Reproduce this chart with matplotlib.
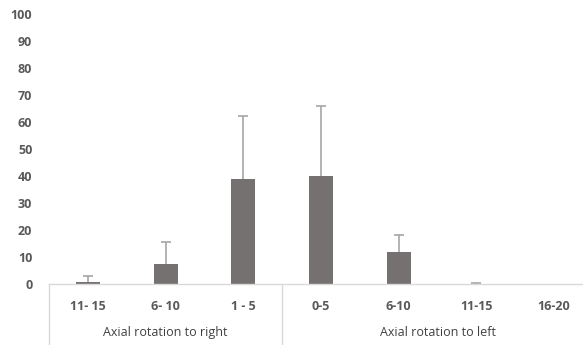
import numpy as np
import matplotlib.pyplot as plt
import matplotlib.transforms as mtransforms

# values
categories = ["11- 15", "6- 10", "1 - 5", "0-5", "6-10", "11-15", "16-20"]
means = [1.0, 7.5, 39.0, 40.2, 11.9, 0.1, 0.0]
errors = [2.0, 8.1, 23.5, 25.7, 6.3, 0.5, 0.0]
groups = ["Axial rotation to right", "Axial rotation to left"]
group_spans = [(0, 2), (3, 6)]

plt.rcParams["font.family"] = ["Open Sans", "DejaVu Sans"]

fig = plt.figure(figsize=(5.83, 3.45), dpi=100)
ax = fig.add_axes([49 / 583, 60.7 / 345, 534 / 583, 270 / 345])

x = np.arange(len(categories))
m = np.array(means)
e = np.array(errors)
ax.bar(x, m, width=0.31, color="#767171", zorder=2)
# upper error bars only, skipped where the error is zero
has_err = e > 0
ax.vlines(x[has_err], m[has_err], m[has_err] + e[has_err], color="#A6A6A6",
          lw=1.2, zorder=1)
ax.plot(x[has_err], m[has_err] + e[has_err], ls="none", marker="_", ms=7,
        mew=1.2, color="#A6A6A6", zorder=1)

ax.set_ylim(0, 100)
ax.set_xlim(-0.5, -0.5 + 534 / 77.7)
ax.set_yticks(np.arange(0, 101, 10))
ax.tick_params(axis="y", length=0, pad=12, labelsize=9, labelcolor="#595959")
for lab in ax.get_yticklabels():
    lab.set_fontweight("bold")
ax.set_xticks(x)
ax.set_xticklabels(categories, fontsize=9, color="#595959", fontweight="bold")
ax.tick_params(axis="x", length=0, pad=11)

for s in ["top", "right", "left"]:
    ax.spines[s].set_visible(False)
ax.spines["bottom"].set_color("#D9D9D9")
ax.spines["bottom"].set_linewidth(1.0)

# group separators and group labels below the axis
trans = mtransforms.blended_transform_factory(ax.transData, ax.transAxes)
for pos in [-0.5, 2.5, 6.5]:
    ax.plot([pos, pos], [0, -0.23], transform=trans, color="#D9D9D9",
            lw=1.0, clip_on=False)
for name, (a, b) in zip(groups, group_spans):
    ax.text((a + b) / 2, -0.18, name, transform=trans, ha="center", va="center",
            fontsize=9, color="#404040")

fig.savefig("out.png", dpi=100)
